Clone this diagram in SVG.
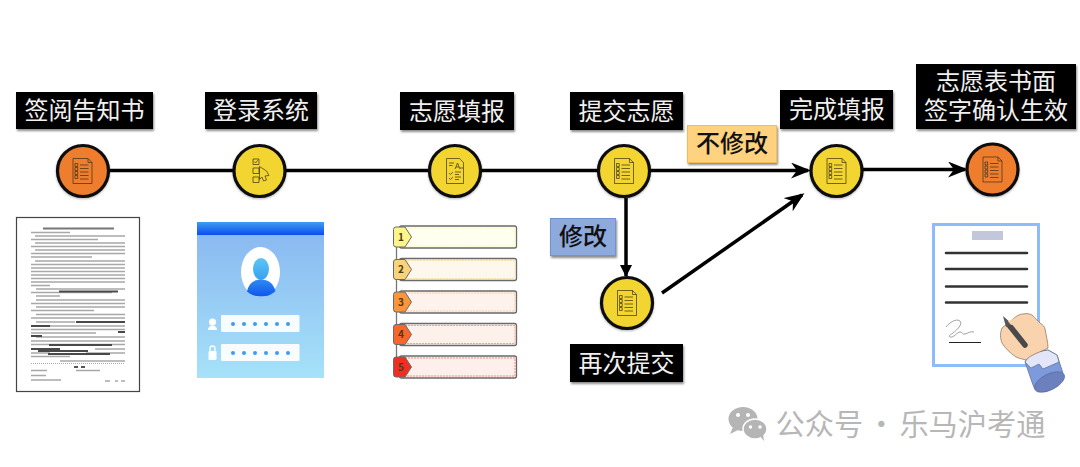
<svg xmlns="http://www.w3.org/2000/svg" xmlns:xlink="http://www.w3.org/1999/xlink" width="1080" height="467" viewBox="0 0 1080 467">
<style>
text{font-family:"Noto Sans CJK SC","Noto Sans",sans-serif;text-anchor:middle}
.lb{fill:#000;filter:url(#sh)}
.lt{fill:#f0f0f0;font-size:24px}
.dt{fill:#111;font-size:24px;font-weight:500}
.c{stroke:#000;stroke-width:3.5;fill:none}
.y{fill:#f3d531;stroke:#0c0c0c;stroke-width:3.2;filter:url(#sh2)}
.o{fill:#ef7d2e;stroke:#0c0c0c;stroke-width:3.2;filter:url(#sh2)}
.i{fill:none;stroke:#3a3010;stroke-width:.7}
.dl{stroke:#a8a8a8;stroke-width:1.6}
.db{stroke:#4a4a4a;stroke-width:1.8}
.dot{fill:#3d9bf0}
.f{fill:#fff;opacity:.92}
.row{stroke:#6a6a6a;stroke-width:1.3}
.sl{stroke:#333;stroke-width:2.6;stroke-linecap:round}
</style>
<defs>
<filter id="sh" x="-10%" y="-15%" width="120%" height="135%"><feDropShadow dx="1" dy="2" stdDeviation="1.2" flood-color="#000" flood-opacity=".45"/></filter>
<filter id="sh2" x="-15%" y="-15%" width="130%" height="130%"><feDropShadow dx="0" dy="1" stdDeviation="1" flood-color="#000" flood-opacity=".3"/></filter>
<filter id="soft" filterUnits="userSpaceOnUse" x="17" y="218" width="122" height="173"><feGaussianBlur stdDeviation=".6"/></filter>
<linearGradient id="hd" x1="0" y1="0" x2="0" y2="1"><stop offset="0" stop-color="#3f9ef0"/><stop offset="1" stop-color="#0a4cf0"/></linearGradient>
<linearGradient id="bd" x1="0" y1="0" x2="0" y2="1"><stop offset="0" stop-color="#88b6f0"/><stop offset="1" stop-color="#a6e2f9"/></linearGradient>
<linearGradient id="hf" x1="0" y1="0" x2="0" y2="1"><stop offset="0" stop-color="#5cc6f5"/><stop offset="1" stop-color="#3aa0f0"/></linearGradient>
<linearGradient id="bo" x1="0" y1="0" x2="0" y2="1"><stop offset="0" stop-color="#2f8cf0"/><stop offset="1" stop-color="#0f55ee"/></linearGradient>
<marker id="ah" viewBox="0 0 20 16" refX="17" refY="8" markerWidth="20" markerHeight="16" markerUnits="userSpaceOnUse" orient="auto"><path d="M0 0L20 8L0 16L6 8Z" fill="#000"/></marker>
<marker id="ad" viewBox="0 0 12 12" refX="11" refY="6" markerWidth="12" markerHeight="12" markerUnits="userSpaceOnUse" orient="auto"><path d="M0 0L12 6L0 12Z" fill="#000"/></marker>
<g id="doc">
<path class="i" d="M-9.500-12.500H5.500L9.500-8.500V12.500H-9.500ZM5.500-12.500V-8.500H9.500"/>
<path class="i" d="M-2.500-6H6M-2.500-2.500H6M-2.500 1H6M-2.500 4.500H6M-2.500 8H6"/>
<path class="i" d="M-7.500-7.500h2.700v3h-2.700ZM-7.500-3.500h2.700v3h-2.700ZM-7.500 .5h2.700v3h-2.700ZM-7.500 4.500h2.700v3h-2.700Z"/>
</g>
</defs>
<rect width="1080" height="467" fill="#fff"/>

<g id="connectors">
<path class="c" d="M110 170.500H233M286 170.500H428M482 170.500H597"/>
<path class="c" d="M651 170.500H808" marker-end="url(#ah)"/>
<path class="c" d="M863 169.500H965" marker-end="url(#ah)"/>
<path class="c" d="M626 198V276" marker-end="url(#ad)"/>
<path class="c" d="M662 293L802 195" marker-end="url(#ah)"/>
</g>

<g id="node-read">
<rect class="lb" x="16" y="92" width="137" height="37"/>
<text class="lt" x="84.500" y="119">签阅告知书</text>
<circle class="o" cx="83" cy="171" r="25.500"/>
<use xlink:href="#doc" href="#doc" x="82.500" y="171"/>
</g>
<g id="node-login">
<rect class="lb" x="205" y="92" width="112" height="37"/>
<text class="lt" x="261" y="119">登录系统</text>
<circle class="y" cx="259.500" cy="171" r="25.500"/>
<path class="i" d="M253 159h6v5.500h-6ZM254.300 161.500l1.300 1.500 2.200-2.800M253 168h6v5.500h-6ZM253 177h6v5.500h-6Z"/>
<path class="i" d="M259.500 166.500v13l2.500-2.500 1.500 4 3-1-1.500-4 4-.5-2.500-4.500Z"/>
</g>
<g id="node-fill">
<rect class="lb" x="400" y="92" width="114" height="38"/>
<text class="lt" x="457" y="119.500">志愿填报</text>
<circle class="y" cx="455" cy="171" r="25.500"/>
<path class="i" d="M446.500 158.500h13l4 4v21h-17ZM449 163h5M449 165.500h3.500M455 169l2.500-6 2.500 6M456 167h3M460 168h3M449 173l1.500 1.500 2.500-2.500M455 172h6M455 174.500h4M449 178l1.500 1.500 2.500-2.500M455 177h6M455 179.500h4"/>
</g>
<g id="node-submit">
<rect class="lb" x="570" y="92" width="113" height="38"/>
<text class="lt" x="626.500" y="119.500">提交志愿</text>
<circle class="y" cx="624" cy="171" r="25.500"/>
<use xlink:href="#doc" href="#doc" x="624" y="171"/>
</g>
<g id="label-nochange">
<rect x="687.500" y="125.500" width="89" height="37" fill="#ffd27f" stroke="#f3bd55" stroke-width="1" filter="url(#sh)"/>
<text class="dt" x="732" y="152">不修改</text>
</g>
<g id="node-done">
<rect class="lb" x="780" y="90" width="113" height="39"/>
<text class="lt" x="837" y="118">完成填报</text>
<circle class="y" cx="836.500" cy="171" r="25.500"/>
<use xlink:href="#doc" href="#doc" x="836.500" y="171"/>
</g>
<g id="node-sign">
<rect class="lb" x="916" y="64" width="160" height="65"/>
<text class="lt"><tspan x="996" y="90">志愿表书面</tspan><tspan x="996" y="118.500">签字确认生效</tspan></text>
<circle class="o" cx="992.500" cy="169.500" r="25.500"/>
<use xlink:href="#doc" href="#doc" x="992.500" y="169.500"/>
</g>
<g id="label-change">
<rect x="550.500" y="218.500" width="65" height="37" fill="#8ea9db" stroke="#6f94d2" stroke-width="1" filter="url(#sh)"/>
<text class="dt" x="583" y="245">修改</text>
</g>
<g id="node-resubmit">
<circle class="y" cx="627" cy="303" r="25.500"/>
<use xlink:href="#doc" href="#doc" x="627" y="303"/>
<rect class="lb" x="570" y="344" width="113" height="38"/>
<text class="lt" x="626.500" y="372">再次提交</text>
</g>

<g id="img-notice">
<rect x="16.500" y="217.500" width="123" height="174" fill="#fff" stroke="#444" stroke-width="1.200"/>
<g filter="url(#soft)">
<path d="M43 228.500H114" stroke="#777" stroke-width="1.800"/>
<path class="dl" d="M31 232.500H70M35 236H125M31 239.500H98M35 243H125M31 246.500H125M35 250H125M31 253.500H125M31 257H92M35 261H125M31 264.500H125M31 268H125M31 271.500H125M31 275H125M31 278.500H125M31 282H125M31 285.500H50M36 289H125M31 292.500H112M36 296H60M36 300H125M31 303.500H125M36 307H125M31 310.500H94M36 314.500H125M31 318H125M36 322H75M36 326H125M31 329.500H125M31 333H96M36 337H125M31 341H125M31 344.500H125M95 349H125M31 353H50M86 353H125M31 356.500H70M60 361H125"/>
<path class="db" d="M59 291.500H118M76 322H125M31 326H50M118 332H125M31 336H42M49 345H112M31 349H60M38 351H88M48 354H110"/>
<path d="M31 363.500H125" stroke="#aaa" stroke-width="1" stroke-dasharray="1 1"/>
<path d="M74 367H78M81 367H85" stroke="#555" stroke-width="1.800"/>
<path class="dl" d="M31 370.500H47M76 370.500H100M31 375.500H46M31 380H61M105 381H110M115 381H118M121 381H125"/>
</g>
</g>

<g id="img-login">
<rect x="197" y="222" width="127" height="156" fill="url(#bd)"/>
<rect x="197" y="222" width="127" height="13" fill="url(#hd)"/>
<ellipse cx="260.500" cy="272" rx="19.500" ry="25" fill="#fff"/>
<ellipse cx="261" cy="269" rx="8" ry="11" fill="url(#hf)"/>
<path d="M247 291.500C249 283 254 279.500 261 279.500S273 283 275.500 291C270 296 265 296.500 261 296.500S252 296 247 291.500Z" fill="url(#bo)"/>
<rect class="f" x="221" y="315" width="78.500" height="17" rx="1"/>
<rect class="f" x="221" y="344" width="78.500" height="17" rx="1"/>
<circle class="dot" cx="233" cy="324" r="2"/><circle class="dot" cx="244" cy="324" r="2"/><circle class="dot" cx="255" cy="324" r="2"/><circle class="dot" cx="266" cy="324" r="2"/><circle class="dot" cx="277" cy="324" r="2"/><circle class="dot" cx="288" cy="324" r="2"/>
<circle class="dot" cx="233" cy="353" r="2"/><circle class="dot" cx="244" cy="353" r="2"/><circle class="dot" cx="255" cy="353" r="2"/><circle class="dot" cx="266" cy="353" r="2"/><circle class="dot" cx="277" cy="353" r="2"/><circle class="dot" cx="288" cy="353" r="2"/>
<circle cx="212.500" cy="322" r="3.500" fill="#fff"/>
<path d="M208 330c0-3 2-4.500 4.500-4.500s4.500 1.500 4.500 4.500Z" fill="#fff"/>
<rect x="208.500" y="351" width="8" height="9" rx="1" fill="#fff"/>
<path d="M210 351v-2.500a2.500 2.500 0 0 1 5 0V351" fill="none" stroke="#fff" stroke-width="1.300"/>
</g>

<g id="img-list">
<path d="M396.500 240V368" stroke="#777" stroke-width="1.300"/>
<g class="row">
<rect x="399.500" y="226" width="117" height="22" rx="2" fill="#fffff0"/>
<rect x="399.500" y="258.500" width="117" height="22" rx="2" fill="#fdf7ee"/>
<rect x="399.500" y="291" width="117" height="22" rx="2" fill="#fdf3ec"/>
<rect x="399.500" y="323.500" width="117" height="22" rx="2" fill="#fdf1ec"/>
<rect x="399.500" y="356" width="117" height="22" rx="2" fill="#fdefec"/>
</g>
<g fill="none" stroke-width="1" stroke-dasharray="2 1">
<rect x="402" y="228" width="113" height="18" stroke="#fff7b0"/>
<rect x="402" y="260.500" width="113" height="18" stroke="#fbe0a8"/>
<rect x="402" y="293" width="113" height="18" stroke="#f9c9a0"/>
<rect x="402" y="325.500" width="113" height="18" stroke="#f7a08a"/>
<rect x="402" y="358" width="113" height="18" stroke="#f48a80"/>
</g>
<g stroke="#6a6a6a" stroke-width="1">
<path d="M396 227h9l6.500 10-6.500 10h-9a2.500 2.500 0 0 1-2.500-2.500v-15a2.500 2.500 0 0 1 2.500-2.500Z" fill="#fef58a"/>
<path d="M396 259.500h9l6.500 10-6.500 10h-9a2.500 2.500 0 0 1-2.500-2.500v-15a2.500 2.500 0 0 1 2.500-2.500Z" fill="#fad27a"/>
<path d="M396 292h9l6.500 10-6.500 10h-9a2.500 2.500 0 0 1-2.500-2.500v-15a2.500 2.500 0 0 1 2.500-2.500Z" fill="#f9953a"/>
<path d="M396 324.500h9l6.500 10-6.500 10h-9a2.500 2.500 0 0 1-2.500-2.500v-15a2.500 2.500 0 0 1 2.500-2.500Z" fill="#f8662c"/>
<path d="M396 357h9l6.500 10-6.500 10h-9a2.500 2.500 0 0 1-2.500-2.500v-15a2.500 2.500 0 0 1 2.500-2.500Z" fill="#f02f24"/>
</g>
<g fill="#4a3c18" font-size="10" font-weight="700">
<text x="401" y="240.500">1</text><text x="401" y="273">2</text><text x="401" y="305.500">3</text><text x="401" y="338">4</text><text x="401" y="370.500">5</text>
</g>
</g>

<g id="img-sign">
<rect x="933.500" y="224.500" width="105" height="141" fill="#fff" stroke="#8dbcfb" stroke-width="3"/>
<rect x="972" y="231" width="31" height="9" fill="#c3c7dc"/>
<path class="sl" d="M946 253H1027M946 269H1027M946 286.500H1027M946 302.500H1027"/>
<path d="M946 327c3-4 10-9 14-6 3 3-3 9-7 12-3 2-5 3-3 4 4 1 7-5 10-5s2 3 5 2 6-3 9-2" fill="none" stroke="#888" stroke-width=".8"/>
<path d="M949 342.500H981" stroke="#222" stroke-width="1"/>
<path d="M1025 362l6-9 17-3 9 5 6 18-4 4-4 2-1 3-17 8c-3-1-3-3-4-5Z" fill="#7d9bdc" stroke="#5a6a90" stroke-width=".7"/>
<path d="M1025 362l6-9 17-3 9 5 2 7-16 7-4-5-8 4Z" fill="#e2e6f8" stroke="#5a6a90" stroke-width=".7"/>
<ellipse cx="1049.500" cy="382" rx="16.500" ry="8" transform="rotate(-27 1049.500 382)" fill="#6b80bd" stroke="#4f5f90" stroke-width=".5"/>
<path d="M1002 328c3-3 8-6 10-8 3-3 7-6 11-6 4-1 7 0 9 1 3 3 6 6 8 8 3 2 5 4 5 6 1 6 3 13 3 19-5 3-12 5-17 8-3 2-4 3-5 4-4-1-8-2-10-3-6-4-11-9-14-14-2-5-2-10 0-15Z" fill="#f8d3ae" stroke="#8a6a50" stroke-width=".7"/>
<path d="M1009 325L1025 345" stroke="#4a4a4a" stroke-width="5.500" stroke-linecap="round"/>
<path d="M1003 316l3 11 6-3Z" fill="#555"/>
<path d="M1008 321c1 2 3 4 4 4 3-2 6-5 7-8" fill="#f8d3ae"/>
</g>

<g id="watermark">
<ellipse cx="743" cy="419" rx="14.500" ry="12" fill="#b5b5b5"/>
<path d="M733 427l-3 7 8-4Z" fill="#b5b5b5"/>
<ellipse cx="755" cy="429" rx="12" ry="10" fill="#b5b5b5" stroke="#fff" stroke-width="1.500"/>
<path d="M760 436l4 5-1-7Z" fill="#b5b5b5"/>
<circle cx="738" cy="415" r="2" fill="#fff"/><circle cx="748" cy="415" r="2" fill="#fff"/><circle cx="750.500" cy="427" r="1.700" fill="#fff"/><circle cx="760" cy="427" r="1.700" fill="#fff"/>
<text x="910.500" y="435" fill="#b7b7b7" font-size="29.200" word-spacing="-3">公众号 · 乐马沪考通</text>
</g>
</svg>
